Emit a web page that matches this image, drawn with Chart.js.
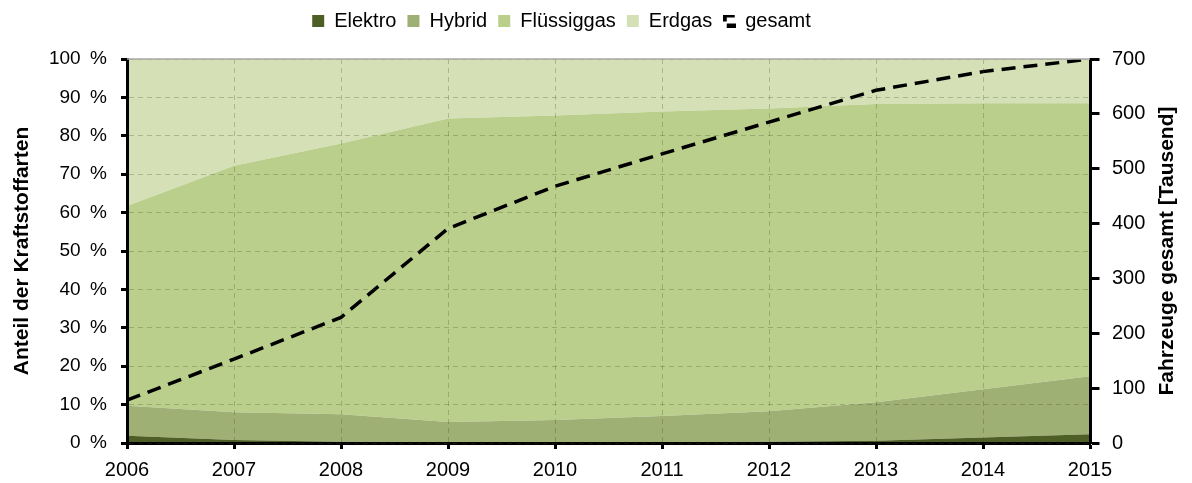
<!DOCTYPE html>
<html lang="de">
<head>
<meta charset="utf-8">
<title>Anteil der Kraftstoffarten</title>
<script src="https://cdn.jsdelivr.net/npm/chart.js@4.4.1/dist/chart.umd.min.js"></script>
<style>
    html, body { margin: 0; padding: 0; background: #fff; }
    #wrap { width: 1192px; height: 483px; }
</style>
</head>
<body>
<div id="wrap"><canvas id="chart" width="1192" height="483"></canvas></div>
<script>
'use strict';

// Jahre
const jahre = ['2006', '2007', '2008', '2009', '2010', '2011', '2012', '2013', '2014', '2015'];

// Anteile in % (gestapelt, Summe 100)
const elektro    = [1.9, 0.8, 0.3, 0.2, 0.2, 0.2, 0.3, 0.6, 1.4, 2.3];
const hybrid     = [7.8, 7.2, 7.2, 5.3, 5.8, 6.8, 8.0, 10.0, 12.6, 15.1];
const fluessig   = [52.0, 64.2, 70.5, 79.0, 79.3, 79.3, 78.8, 77.7, 74.5, 71.1];
const erdgas     = [38.3, 27.8, 22.0, 15.5, 14.7, 13.7, 12.9, 11.7, 11.5, 11.5];

// Fahrzeuge gesamt [Tausend]
const gesamt     = [78, 153, 229, 391, 468, 527, 585, 643, 677, 700];

const yTicks  = [0, 10, 20, 30, 40, 50, 60, 70, 80, 90, 100];
const y2Ticks = [0, 100, 200, 300, 400, 500, 600, 700];

const FONT = '"Liberation Sans", Arial, Helvetica, sans-serif';
const GRID = 'rgba(60, 70, 30, 0.27)';
const RIGHT_TITLE = 'Fahrzeuge gesamt [Tausend]';

// kleines Symbol für die gestrichelte Linie in der Legende
function makeDashIcon() {
    const c = document.createElement('canvas');
    c.width = 13; c.height = 13;
    const g = c.getContext('2d');
    g.fillStyle = '#000';
    g.fillRect(0, 0, 12, 3);
    g.fillRect(0, 0, 4, 7);
    g.fillRect(4, 9, 9, 4);
    return c;
}

// obere Rahmenlinie + rechter Achsentitel (von unten nach oben gelesen)
const extras = {
    id: 'extras',
    afterDraw(chart) {
        const { ctx, chartArea } = chart;
        ctx.save();
        ctx.strokeStyle = '#a8a8a8';
        ctx.lineWidth = 1.5;
        ctx.beginPath();
        ctx.moveTo(chartArea.left, chartArea.top);
        ctx.lineTo(chartArea.right, chartArea.top);
        ctx.stroke();

        ctx.translate(1167, (chartArea.top + chartArea.bottom) / 2);
        ctx.rotate(-Math.PI / 2);
        ctx.fillStyle = '#000';
        ctx.font = 'bold 21px ' + FONT;
        ctx.textAlign = 'center';
        ctx.textBaseline = 'middle';
        ctx.fillText(RIGHT_TITLE, 0, 0);
        ctx.restore();
    }
};

const legendBox = {
    id: 'legendBox',
    beforeInit(chart) {
        const origFit = chart.legend.fit;
        chart.legend.fit = function () {
            origFit.bind(chart.legend)();
            this.height = 59;
        };
    },
    afterLayout(chart) {
        // Legende etwas links von der Mitte
        chart.legend.left = 0;
        chart.legend.right = 1123;
    }
};

function area(label, data, color, fill) {
    return {
        label, data,
        backgroundColor: color,
        borderColor: color,
        borderWidth: 0,
        pointRadius: 0,
        pointStyle: 'rect',
        fill,
        order: 1,
        yAxisID: 'y'
    };
}

const ctx = document.getElementById('chart').getContext('2d');

new Chart(ctx, {
    type: 'line',
    data: {
        labels: jahre,
        datasets: [
            area('Elektro', elektro, '#4e5f26', 'origin'),
            area('Hybrid', hybrid, '#9fb074', '-1'),
            area('Flüssiggas', fluessig, '#bbcf8c', '-1'),
            area('Erdgas', erdgas, '#d5e0b7', '-1'),
            {
                label: 'gesamt',
                data: gesamt,
                yAxisID: 'y2',
                borderColor: '#000',
                backgroundColor: '#000',
                borderWidth: 3.5,
                borderDash: [14, 8],
                pointRadius: 0,
                pointStyle: makeDashIcon(),
                fill: false,
                tension: 0,
                order: 0
            }
        ]
    },
    options: {
        responsive: false,
        animation: false,
        layout: { padding: 0 },
        plugins: {
            legend: {
                position: 'top',
                labels: {
                    usePointStyle: true,
                    boxWidth: 12,
                    boxHeight: 12,
                    padding: 11,
                    color: '#000',
                    font: { family: FONT, size: 20 },
                    sort: (a, b) => a.datasetIndex - b.datasetIndex
                }
            },
            tooltip: { enabled: false }
        },
        scales: {
            x: {
                type: 'category',
                offset: false,
                afterFit: (s) => { s.height = 40; },
                grid: {
                    color: GRID, lineWidth: 1, z: 1,
                    tickColor: '#000', tickWidth: 3, tickLength: 6, tickBorderDash: []
                },
                border: { display: true, color: '#000', width: 3, dash: [5, 4], z: 1 },
                ticks: { color: '#000', padding: 9, maxRotation: 0, autoSkip: false, font: { family: FONT, size: 20 } }
            },
            y: {
                stacked: true,
                min: 0, max: 100,
                position: 'left',
                afterFit: (s) => { s.width = 127; },
                afterBuildTicks: (s) => { s.ticks = yTicks.map(v => ({ value: v })); },
                grid: {
                    color: GRID, lineWidth: 1, z: 1,
                    tickColor: '#000', tickWidth: 3, tickLength: 6, tickBorderDash: []
                },
                border: { display: true, color: '#000', width: 3, dash: [5, 4], z: 1 },
                ticks: {
                    color: '#000', padding: 14,
                    font: { family: FONT, size: 19 },
                    callback: (v) => v + '\u2002%'
                },
                title: {
                    display: true,
                    text: 'Anteil der Kraftstoffarten',
                    color: '#000',
                    padding: { top: 10, bottom: 0 },
                    font: { family: FONT, size: 21, weight: 'bold' }
                }
            },
            y2: {
                stacked: false,
                min: 0, max: 700,
                position: 'right',
                afterFit: (s) => { s.width = 102; },
                afterBuildTicks: (s) => { s.ticks = y2Ticks.map(v => ({ value: v })); },
                grid: {
                    drawOnChartArea: false, z: 1,
                    tickColor: '#000', tickWidth: 3, tickLength: 22, tickBorderDash: [7.5, 60]
                },
                border: { display: true, color: '#000', width: 3, z: 1 },
                ticks: { color: '#000', padding: 0, font: { family: FONT, size: 20 } },
                title: { display: false }
            }
        }
    },
    plugins: [legendBox, extras]
});
</script>
</body>
</html>
